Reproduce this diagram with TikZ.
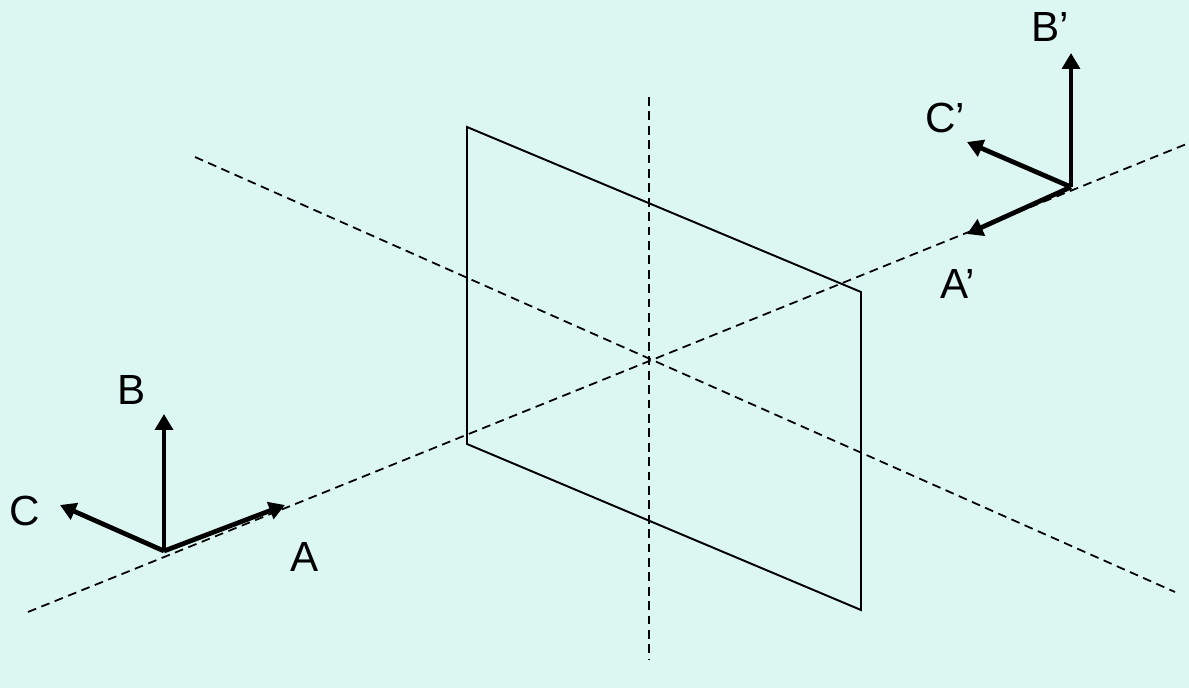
\documentclass[tikz,border=0pt]{standalone}
\usepackage{fontspec}
\setmainfont{Liberation Sans}
\usepackage{xcolor}
\usetikzlibrary{arrows.meta,positioning}
\definecolor{paneback}{HTML}{DCF6F1}

\begin{document}
\begin{tikzpicture}[
  x=0.02cm, y=-0.02cm,
  axisline/.style={dash pattern=on 5pt off 3.2pt, line width=1pt},
  plane/.style={line width=1.1pt, line join=miter},
  arrow/.style={-{Triangle[length=9pt, width=10pt]}, line width=2.7pt},
  label/.style={font=\fontsize{24}{28}\selectfont, inner sep=0pt}
]

% Background
\fill[paneback, use as bounding box] (0, 0) rectangle (1189, 688);

% Axis end points
\coordinate (axisAstart) at (28, 612);
\coordinate (axisAend) at (1189, 143);
\coordinate (axisCstart) at (195, 157);
\coordinate (axisCend) at (1175, 592);
\coordinate (axisBstart) at (649, 97);
\coordinate (axisBend) at (649, 660);

% Plane corners
\coordinate (p1) at (467, 127);
\coordinate (p2) at (861, 292);
\coordinate (p3) at (861, 610);
\coordinate (p4) at (467, 444);

% Frame origins and arrow tips
\coordinate (o) at (164, 551);
\coordinate (a) at (285, 505);
\coordinate (b) at (164, 414);
\coordinate (c) at (60, 505);
\coordinate (o2) at (1071, 187);
\coordinate (a2) at (967, 234);
\coordinate (b2) at (1071, 53);
\coordinate (c2) at (967, 142);

% Dashed axes
\draw[axisline] (axisAstart) -- (axisAend);
\draw[axisline] (axisCstart) -- (axisCend);
\draw[axisline] (axisBstart) -- (axisBend);

% Plane
\draw[plane] (p1) -- (p2) -- (p3) -- (p4) -- cycle;

% Arrows
\draw[arrow] (o) -- (a);
\draw[arrow] (o) -- (b);
\draw[arrow] (o) -- (c);
\draw[arrow] (o2) -- (a2);
\draw[arrow] (o2) -- (b2);
\draw[arrow] (o2) -- (c2);

% Labels
\node[label] (la) at (304.5, 557) {A};
\node[label] (lb) at (132, 390) {B};
\node[label] (lc) at (25, 511) {C};
\node[label] (la2) at (958, 284) {A’};
\node[label] (lb2) at (1050, 27) {B’};
\node[label] (lc2) at (945, 118) {C’};

\end{tikzpicture}
\end{document}
